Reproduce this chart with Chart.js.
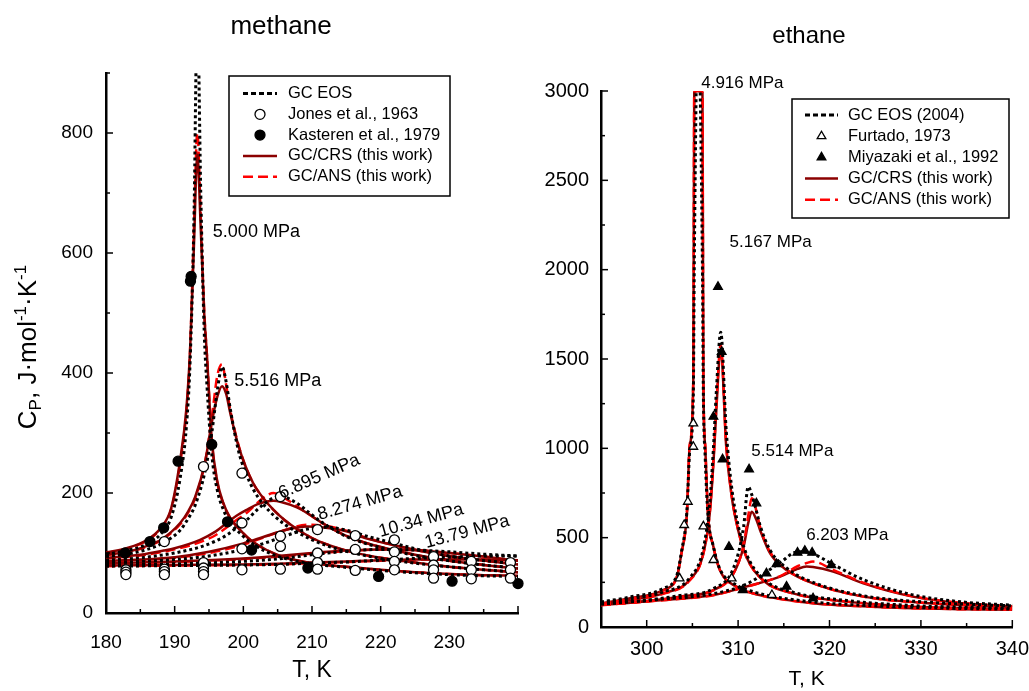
<!DOCTYPE html>
<html>
<head>
<meta charset="utf-8">
<script src="https://cdn.jsdelivr.net/npm/chart.js@4.4.1/dist/chart.umd.min.js"></script>
<style>
html, body { margin: 0; padding: 0; background: #fff; overflow: hidden; }
#left { position: absolute; left: 0; top: 0; }
#right { position: absolute; left: 529px; top: 0; }
</style>
</head>
<body>
<canvas id="left" width="530" height="691"></canvas>
<canvas id="right" width="500" height="691"></canvas>
<script>
// ---- methane, T in K, Cp in J/(mol K) ----
var mT50 = [180,183,186,188,189.5,190.8,191.7,192.25,192.8,193.3,193.8,194.3,194.7,195.4,196.2,197.1,198,199.5,201,203.4,206,210,215,220,225,230,235,240];
var mCrs50 = [101,108,122,142,175,255,340,439,610,764,640,500,430,290,220,183,160,139,122,105,93,83,77,72,68,65,63,62];
var mAns50 = [100,107,121,141,173,250,335,440,640,800,660,505,430,288,218,182,160,139,122,105,93,83,77,72,68,65,63,62];
var mEos50 = [98,104,115,132,160,225,310,420,650,1000,700,470,380,265,205,172,152,133,118,102,91,82,76,71,67,64,62,61];

var mT55 = [180,183.5,186,188,190.8,192,193,194.4,195.4,196.2,196.9,197.5,198.1,199.3,200.3,201.5,203,204.4,206,207.8,210,212.7,216,220,225,230,235,240];
var mCrs55 = [97,103,112,122,150,170,194,250,317,360,378,365,333,278,245,215,190,172,155,140,125,112,101,92,84,77,72,68];
var mAns55 = [96,102,111,121,148,168,192,250,325,395,415,380,338,280,245,215,190,172,155,140,125,112,101,92,84,77,72,68];
var mEos55 = [94,99,106,115,138,158,180,235,300,370,410,385,340,270,235,205,180,163,148,135,122,110,100,91,83,77,72,68];

var mT69 = [180,185,188.4,190,193.7,196,197.6,199,200.5,202,203.4,204.4,205.5,207.8,209.5,211.2,213,215.1,217.5,220,225,230,235,240];
var mCrs69 = [92,97,104,108,122,136,150,162,172,181,186,187,185,176,165,152,140,128,118,110,97,87,80,74];
var mAns69 = [91,96,102,106,118,130,143,155,167,183,196,200,195,178,165,152,140,128,118,110,97,87,80,74];
var mEos69 = [88,92,97,100,110,120,130,142,155,172,185,192,194,183,168,153,140,127,117,109,96,87,80,75];

var mT82 = [180,185,190,195,200,203,206,209.3,212,215,218,222,227.7,233,240];
var mCrs82 = [87,89,93,102,116,127,138,144,142,136,124,113,99,90,81];
var mAns82 = [86,88,92,100,114,126,138,147,145,137,125,113,99,90,81];
var mEos82 = [84,86,89,95,106,116,128,140,143,138,128,116,100,90,82];

var mTHigh = [180,190,200,205,210,215,220,225,230,235,240];
var mCrs103 = [83,86,91,95,100,104,106,105,100,94,87];
var mAns103 = [82,85,90,94,99,103,106,105,100,94,87];
var mEos103 = [80,82,86,90,97,103,106,105,102,98,95];
var mCrs138 = [79,80,81,82,84,86,88,89,89,89,88];
var mAns138 = [78,79,80,81,83,85,87,89,89,89,88];
var mEos138 = [78,79,80,81,83,85,88,91,93,95,95];

var jonesT = [182.9,182.9,182.9,188.5,188.5,188.5,188.5,194.2,194.2,194.2,194.2,194.2,199.8,199.8,199.8,199.8,205.4,205.4,205.4,205.4,210.8,210.8,210.8,210.8,216.3,216.3,216.3,222,222,222,222,227.7,227.7,227.7,227.7,233.2,233.2,233.2,238.9,238.9,238.9];
var jonesCp = [72,68,64,119,73,69,64,244,84,75,69,64,233,150,107,72,194,128,111,73,139,100,84,73,129,106,71,122,102,86,72,94,80,72,58,86,72,57,84,72,58];
var kastT = [182.8,186.4,188.4,190.5,192.3,192.4,195.4,197.7,201.2,209.4,219.7,230.4,240];
var kastCp = [100,119,142,253,553,561,281,152,105,75,61,53,49];

var mLabels = ['5.000 MPa','5.516 MPa','6.895 MPa','8.274 MPa','10.34 MPa','13.79 MPa'];
var mLabelT = [201.9,205.0,211.05,217.0,225.9,232.6];
var mLabelCp = [635,386,227,183,154,135];
var mLabelAngle = [0,0,-24,-16,-15.5,-15];

// ---- ethane ----
var eT49 = [295,298.2,301.8,303.3,303.8,304.4,304.7,305.1,305.2,305.6,306.1,306.2,306.4,306.7,307.3,308,309.8,311.5,313.1,318.2,323,329.1,334,340];
var eCrs49 = [133,161,207,282,412,636,1009,1382,2990,3000,2990,1382,1009,636,449,319,226,190,170,133,117,105,100,96];
var eAns49 = [130,158,204,280,410,640,1020,1400,2995,3000,2995,1400,1020,640,450,320,226,190,170,133,117,105,100,96];
var eEos49 = [140,168,216,290,420,650,980,1300,2000,3400,2000,1300,950,630,450,325,235,200,178,140,123,110,104,100];

var eT51 = [295,298.2,301.8,304.7,306.2,306.9,307.3,307.6,308.1,308.7,309.3,310,310.9,312.7,316,321.9,329.1,334,340];
var eCrs51 = [130,151,188,263,412,636,916,1196,1560,1009,729,543,393,263,188,142,114,106,100];
var eAns51 = [128,150,186,260,410,640,930,1220,1580,1020,735,545,393,263,188,142,114,106,100];
var eEos51 = [136,158,196,275,440,700,1000,1300,1650,1100,780,570,410,272,195,148,120,112,106];

var eT55 = [295,300,303.6,307.3,309.5,310.6,311.1,311.5,312,312.4,313.5,315.3,318.2,323.7,331,340];
var eCrs55 = [125,145,170,207,300,449,580,645,600,543,412,319,244,170,133,112];
var eAns55 = [124,144,168,205,300,460,620,720,650,560,420,322,245,170,133,112];
var eEos55 = [130,150,176,215,330,560,785,740,650,570,430,330,250,175,138,118];

var eT62 = [295,301.8,307.3,310.9,314.6,316.5,317.5,318.2,320.4,323.7,329.1,334.6,340];
var eCrs62 = [123,151,179,226,282,325,338,336,310,244,170,133,115];
var eAns62 = [122,150,178,225,285,340,358,366,320,248,172,134,115];
var eEos62 = [128,156,186,240,360,421,420,410,350,265,180,140,122];

var furtT = [303.6,304.1,304.5,305.1,305.1,306.2,307.3,309.3,313.7];
var furtCp = [272,571,701,1009,1140,563,375,272,179];
var miyaT = [307.3,307.8,308.2,308.3,309,310.5,311.2,312,313.1,314.2,315.3,316.5,317.3,318.1,318.2,320.2];
var miyaCp = [1177,1904,1540,938,449,207,882,692,300,352,226,416,427,416,161,347];

var eLabels = ['4.916 MPa','5.167 MPa','5.514 MPa','6.203 MPa'];
var eLabelT = [310.46,313.56,315.93,321.94];
var eLabelCp = [3044,2153,981,511];

Chart.defaults.font.family = "'Liberation Sans', Arial, sans-serif";
Chart.defaults.color = '#000';

var styles = {
    eos: { borderColor: '#000000', borderWidth: 3, borderDash: [3, 3] },
    crs: { borderColor: '#8b0000', borderWidth: 2.5, borderDash: [] },
    ans: { borderColor: '#ff0000', borderWidth: 2.5, borderDash: [10, 5] }
};

function pts(xs, ys) {
    return xs.map(function (x, i) { return { x: x, y: ys[i] }; });
}

function curve(xs, ys, kind, order) {
    var s = styles[kind];
    return {
        type: 'line', data: pts(xs, ys), order: order,
        borderColor: s.borderColor, borderWidth: s.borderWidth, borderDash: s.borderDash,
        pointRadius: 0, fill: false, cubicInterpolationMode: 'monotone'
    };
}

function marks(xs, ys, shape, filled) {
    return {
        type: 'scatter', data: pts(xs, ys), order: 0, clip: false,
        pointStyle: shape, pointRadius: 5, pointBorderWidth: 1.3,
        pointBorderColor: '#000', pointBackgroundColor: filled ? '#000' : '#fff'
    };
}

// inward tick marks
var inTicks = {
    id: 'inTicks',
    afterDraw: function (chart, args, o) {
        var ctx = chart.ctx, xs = chart.scales.x, ys = chart.scales.y;
        ctx.save();
        ctx.strokeStyle = '#000';
        ctx.lineWidth = 1.5;
        var v, p, len;
        for (v = Math.ceil(xs.min / o.xMinor) * o.xMinor; v <= xs.max + 1e-9; v += o.xMinor) {
            p = xs.getPixelForValue(v);
            len = Math.abs(v / o.xMajor - Math.round(v / o.xMajor)) < 1e-6 ? 7 : 4;
            ctx.beginPath(); ctx.moveTo(p, ys.bottom); ctx.lineTo(p, ys.bottom - len); ctx.stroke();
        }
        for (v = Math.ceil(ys.min / o.yMinor) * o.yMinor; v <= ys.max + 1e-9; v += o.yMinor) {
            p = ys.getPixelForValue(v);
            len = Math.abs(v / o.yMajor - Math.round(v / o.yMajor)) < 1e-6 ? 7 : 4;
            ctx.beginPath(); ctx.moveTo(xs.left, p); ctx.lineTo(xs.left + len, p); ctx.stroke();
        }
        ctx.restore();
    }
};

// titles, pressure labels and legend box
var extras = {
    id: 'extras',
    afterDraw: function (chart, args, o) {
        var ctx = chart.ctx, xs = chart.scales.x, ys = chart.scales.y;
        ctx.save();
        ctx.fillStyle = '#000';
        ctx.textBaseline = 'middle';
        ctx.textAlign = 'center';
        ctx.font = o.titleSize + "px 'Liberation Sans', Arial, sans-serif";
        ctx.fillText(o.title, o.titleX, o.titleY);

        ctx.font = o.labelSize + "px 'Liberation Sans', Arial, sans-serif";
        o.labels.forEach(function (t, i) {
            ctx.save();
            ctx.translate(xs.getPixelForValue(o.labelT[i]), ys.getPixelForValue(o.labelCp[i]));
            ctx.rotate((o.labelAngle ? o.labelAngle[i] : 0) * Math.PI / 180);
            ctx.fillText(t, 0, 0);
            ctx.restore();
        });

        // legend
        var L = o.legend;
        ctx.lineWidth = 1.5;
        ctx.strokeStyle = '#000';
        ctx.strokeRect(L.box[0], L.box[1], L.box[2] - L.box[0], L.box[3] - L.box[1]);
        ctx.textAlign = 'left';
        ctx.font = L.size + "px 'Liberation Sans', Arial, sans-serif";
        L.items.forEach(function (it, i) {
            var y = L.rows[i];
            if (it.kind) {
                var s = styles[it.kind];
                ctx.save();
                ctx.strokeStyle = s.borderColor;
                ctx.lineWidth = s.borderWidth;
                ctx.setLineDash(it.kind === 'eos' ? [5, 3] : s.borderDash);
                ctx.beginPath(); ctx.moveTo(L.line[0], y); ctx.lineTo(L.line[1], y); ctx.stroke();
                ctx.restore();
            } else {
                ctx.save();
                ctx.fillStyle = it.filled ? '#000' : '#fff';
                ctx.strokeStyle = '#000';
                ctx.lineWidth = 1.3;
                Chart.helpers.drawPoint(ctx, { pointStyle: it.shape, radius: 5, rotation: 0, borderWidth: 1.3 },
                    (L.line[0] + L.line[1]) / 2, y);
                ctx.restore();
            }
            ctx.fillStyle = '#000';
            ctx.fillText(it.text, L.textX, y);
        });

        // y axis title with sub/superscripts
        if (o.yTitle) {
            ctx.save();
            ctx.translate(o.yTitle.x, o.yTitle.y);
            ctx.rotate(-Math.PI / 2);
            var parts = [['C', 26, 0], ['P', 17, 5], [', J\u00b7mol', 26, 0], ['-1', 17, -10], ['\u00b7K', 26, 0], ['-1', 17, -10]];
            var w = 0;
            parts.forEach(function (pt) {
                ctx.font = pt[1] + "px 'Liberation Sans', Arial, sans-serif";
                w += ctx.measureText(pt[0]).width;
            });
            var x = -w / 2;
            ctx.textBaseline = 'alphabetic';
            parts.forEach(function (pt) {
                ctx.font = pt[1] + "px 'Liberation Sans', Arial, sans-serif";
                ctx.fillText(pt[0], x, 9 + pt[2]);
                x += ctx.measureText(pt[0]).width;
            });
            ctx.restore();
        }
        ctx.restore();
    }
};

// a: {xmin, xmax, ymin, ymax, ystep, yWidth, xHeight, tick, xGap, yPad, xTitle, xTitlePad, hideLast}
function axes(a) {
    return {
        x: {
            type: 'linear', min: a.xmin, max: a.xmax,
            grid: { display: false, drawTicks: true, tickLength: a.xGap },
            border: { display: true, color: '#000', width: 2.5 },
            ticks: {
                stepSize: 10, includeBounds: false, autoSkip: false, maxRotation: 0,
                padding: 0, color: '#000', font: { size: a.tick },
                callback: function (v) { return (a.hideLast && v === a.xmax) ? '' : String(v); }
            },
            title: { display: true, text: 'T, K', color: '#000', font: { size: a.xTitle }, padding: { top: 0, bottom: a.xTitlePad } },
            afterFit: function (s) { s.height = a.xHeight; }
        },
        y: {
            type: 'linear', min: a.ymin, max: a.ymax,
            grid: { display: false, drawTicks: false },
            border: { display: true, color: '#000', width: 2.5 },
            ticks: {
                stepSize: a.ystep, includeBounds: false, padding: a.yPad, color: '#000', font: { size: a.tick },
                callback: function (v) { return String(v); }
            },
            afterFit: function (s) { s.width = a.yWidth; }
        }
    };
}

// methane chart
new Chart(document.getElementById('left'), {
    data: {
        datasets: [
            marks(jonesT, jonesCp, 'circle', false),
            marks(kastT, kastCp, 'circle', true),
            curve(mT50, mEos50, 'eos', 1), curve(mT55, mEos55, 'eos', 1), curve(mT69, mEos69, 'eos', 1),
            curve(mT82, mEos82, 'eos', 1), curve(mTHigh, mEos103, 'eos', 1), curve(mTHigh, mEos138, 'eos', 1),
            curve(mT50, mCrs50, 'crs', 2), curve(mT55, mCrs55, 'crs', 2), curve(mT69, mCrs69, 'crs', 2),
            curve(mT82, mCrs82, 'crs', 2), curve(mTHigh, mCrs103, 'crs', 2), curve(mTHigh, mCrs138, 'crs', 2),
            curve(mT50, mAns50, 'ans', 3), curve(mT55, mAns55, 'ans', 3), curve(mT69, mAns69, 'ans', 3),
            curve(mT82, mAns82, 'ans', 3), curve(mTHigh, mAns103, 'ans', 3), curve(mTHigh, mAns138, 'ans', 3)
        ]
    },
    options: {
        responsive: false, animation: false, devicePixelRatio: 1,
        layout: { padding: { left: 0, right: 12, top: 73, bottom: 0 } },
        scales: axes({ xmin: 180, xmax: 240, ymin: 0, ymax: 900, ystep: 200, yWidth: 106, xHeight: 78,
            tick: 19, xGap: 18, yPad: 13, xTitle: 23, xTitlePad: 7, hideLast: true }),
        plugins: {
            legend: { display: false }, tooltip: { enabled: false },
            inTicks: { xMinor: 5, xMajor: 10, yMinor: 100, yMajor: 200 },
            extras: {
                title: 'methane', titleSize: 26, titleX: 281, titleY: 27,
                labels: mLabels, labelT: mLabelT, labelCp: mLabelCp, labelAngle: mLabelAngle, labelSize: 18,
                yTitle: { x: 27, y: 347 },
                legend: {
                    box: [229, 76, 450, 196], rows: [93.5, 114.3, 135.1, 155.9, 176.7],
                    line: [243, 277], textX: 288, size: 16.5,
                    items: [
                        { kind: 'eos', text: 'GC EOS' },
                        { shape: 'circle', filled: false, text: 'Jones et al., 1963' },
                        { shape: 'circle', filled: true, text: 'Kasteren et al., 1979' },
                        { kind: 'crs', text: 'GC/CRS (this work)' },
                        { kind: 'ans', text: 'GC/ANS (this work)' }
                    ]
                }
            }
        }
    },
    plugins: [inTicks, extras]
});

// ethane chart
new Chart(document.getElementById('right'), {
    data: {
        datasets: [
            marks(furtT, furtCp, 'triangle', false),
            marks(miyaT, miyaCp, 'triangle', true),
            curve(eT49, eEos49, 'eos', 1), curve(eT51, eEos51, 'eos', 1), curve(eT55, eEos55, 'eos', 1), curve(eT62, eEos62, 'eos', 1),
            curve(eT49, eAns49, 'ans', 2), curve(eT51, eAns51, 'ans', 2), curve(eT55, eAns55, 'ans', 2), curve(eT62, eAns62, 'ans', 2),
            curve(eT49, eCrs49, 'crs', 3), curve(eT51, eCrs51, 'crs', 3), curve(eT55, eCrs55, 'crs', 3), curve(eT62, eCrs62, 'crs', 3)
        ]
    },
    options: {
        responsive: false, animation: false, devicePixelRatio: 1,
        layout: { padding: { left: 0, right: 16, top: 91, bottom: 0 } },
        scales: axes({ xmin: 295, xmax: 340, ymin: 0, ymax: 3000, ystep: 500, yWidth: 72, xHeight: 64,
            tick: 20, xGap: 10, yPad: 12, xTitle: 21, xTitlePad: -1, hideLast: false }),
        plugins: {
            legend: { display: false }, tooltip: { enabled: false },
            inTicks: { xMinor: 5, xMajor: 10, yMinor: 250, yMajor: 500 },
            extras: {
                title: 'ethane', titleSize: 24, titleX: 280, titleY: 36,
                labels: eLabels, labelT: eLabelT, labelCp: eLabelCp, labelSize: 17,
                legend: {
                    box: [263, 99, 480, 218], rows: [115, 136.2, 157.4, 178.6, 199.8],
                    line: [276, 309], textX: 319, size: 16.5,
                    items: [
                        { kind: 'eos', text: 'GC EOS (2004)' },
                        { shape: 'triangle', filled: false, text: 'Furtado, 1973' },
                        { shape: 'triangle', filled: true, text: 'Miyazaki et al., 1992' },
                        { kind: 'crs', text: 'GC/CRS (this work)' },
                        { kind: 'ans', text: 'GC/ANS (this work)' }
                    ]
                }
            }
        }
    },
    plugins: [inTicks, extras]
});
</script>
</body>
</html>
